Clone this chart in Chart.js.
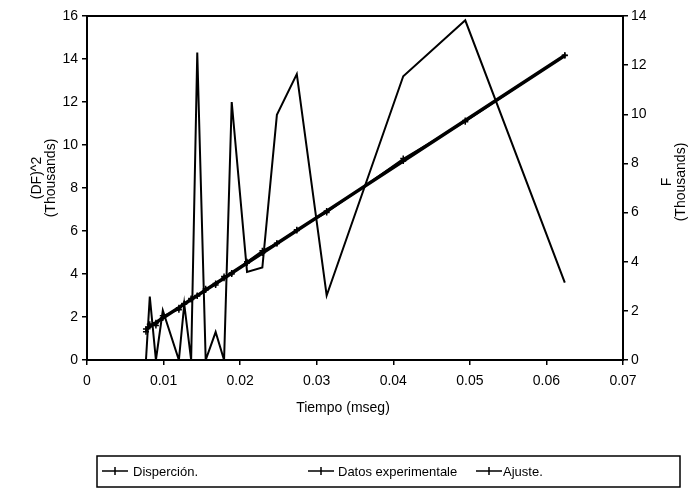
<!DOCTYPE html>
<html>
<head>
<meta charset="utf-8">
<script src="https://cdn.jsdelivr.net/npm/chart.js@4/dist/chart.umd.min.js"></script>
<style>
  html, body { margin: 0; padding: 0; background: #fff; }
  #wrap { width: 688px; height: 494px; }
</style>
</head>
<body>
<div id="wrap"><canvas id="fuerzaChart" width="688" height="494"></canvas></div>
<script>
// tiempo (mseg) de cada medida
const tiempo = [0.0077, 0.0082, 0.0090, 0.0099, 0.0120, 0.0127, 0.0136, 0.0144, 0.0155, 0.0168,
                0.0179, 0.0189, 0.0209, 0.0229, 0.0248, 0.0274, 0.0313, 0.0413, 0.0494, 0.0624];
// (DF)^2 en miles
const dispersion = [0.0, 2.95, 0.0, 2.3, 0.0, 2.6, 0.0, 14.3, 0.0, 1.3,
                    0.0, 12.0, 4.1, 4.3, 11.4, 13.3, 3.0, 13.2, 15.8, 3.6];
// F medida, en miles
const datosExp = [1.15, 1.45, 1.40, 1.80, 2.05, 2.30, 2.50, 2.60, 2.90, 3.05,
                  3.40, 3.50, 4.00, 4.45, 4.75, 5.30, 6.00, 8.20, 9.70, 12.40];
// recta de ajuste, en miles
const ajuste = [1.26, 1.36, 1.52, 1.71, 2.13, 2.28, 2.46, 2.62, 2.85, 3.11,
                3.33, 3.54, 3.95, 4.35, 4.74, 5.27, 6.06, 8.10, 9.75, 12.39];
const xTicks = [0, 0.01, 0.02, 0.03, 0.04, 0.05, 0.06, 0.07];

const FONT = 'Liberation Sans, Arial, sans-serif';

function pts(ys) {
  return tiempo.map((t, i) => ({ x: t, y: ys[i] }));
}

// marco, titulos de ejes y leyenda
const extras = {
  id: 'extras',
  afterDraw(chart) {
    const ctx = chart.ctx;
    const a = chart.chartArea;
    ctx.save();
    ctx.strokeStyle = '#000';
    ctx.lineWidth = 2;
    ctx.strokeRect(a.left, a.top, a.right - a.left, a.bottom - a.top);

    ctx.fillStyle = '#000';
    ctx.font = '14px ' + FONT;
    ctx.textAlign = 'center';
    ctx.textBaseline = 'middle';
    ctx.fillText('Tiempo (mseg)', 343, 408);

    // titulos verticales
    const vtitle = (x, y, lines) => {
      ctx.save();
      ctx.translate(x, y);
      ctx.rotate(-Math.PI / 2);
      lines.forEach((l, i) => ctx.fillText(l, 0, (i - (lines.length - 1) / 2) * 14));
      ctx.restore();
    };
    vtitle(44, 178, ['(DF)^2', '(Thousands)']);
    vtitle(674, 182, ['F', '(Thousands)']);

    // leyenda
    ctx.lineWidth = 1.5;
    ctx.strokeRect(97, 456, 583, 31);
    ctx.textAlign = 'left';
    ctx.font = '13px ' + FONT;
    const items = [[102, 133], [308, 338], [476, 503]];
    chart.data.datasets.forEach((ds, i) => {
      const [mx, tx] = items[i];
      const y = 471;
      ctx.lineWidth = 1.5;
      ctx.beginPath();
      ctx.moveTo(mx, y); ctx.lineTo(mx + 26, y);
      ctx.moveTo(mx + 13, y - 4); ctx.lineTo(mx + 13, y + 4);
      ctx.stroke();
      ctx.fillText(ds.label, tx, y + 1);
    });
    ctx.restore();
  }
};

new Chart(document.getElementById('fuerzaChart'), {
  type: 'line',
  data: {
    datasets: [
      {
        label: 'Disperción.',
        data: pts(dispersion),
        yAxisID: 'y',
        borderColor: '#000',
        borderWidth: 2,
        pointRadius: 0,
        tension: 0
      },
      {
        label: 'Datos experimentale',
        data: pts(datosExp),
        yAxisID: 'y1',
        borderColor: '#000',
        borderWidth: 1.5,
        pointStyle: 'cross',
        pointRadius: 3,
        pointBorderColor: '#000',
        pointBorderWidth: 1.5,
        tension: 0
      },
      {
        label: 'Ajuste.',
        data: pts(ajuste),
        yAxisID: 'y1',
        borderColor: '#000',
        borderWidth: 3.5,
        pointStyle: 'cross',
        pointRadius: 3,
        pointBorderColor: '#000',
        pointBorderWidth: 1.5,
        tension: 0
      }
    ]
  },
  options: {
    responsive: false,
    animation: false,
    layout: { padding: { top: 16 } },
    plugins: { legend: { display: false }, tooltip: { enabled: false } },
    scales: {
      x: {
        type: 'linear',
        min: 0,
        max: 0.07,
        afterFit(s) { s.height = 134; },
        afterBuildTicks(s) { s.ticks = xTicks.map(v => ({ value: v })); },
        grid: { drawOnChartArea: false, drawTicks: true, tickLength: 5, color: '#000', lineWidth: 1.5 },
        border: { color: '#000', width: 2 },
        ticks: {
          color: '#000',
          font: { family: FONT, size: 14 },
          padding: 8,
          maxRotation: 0,
          callback: v => String(Number(v.toFixed(2)))
        }
      },
      y: {
        position: 'left',
        min: 0,
        max: 16,
        afterFit(s) { s.width = 87; },
        grid: { drawOnChartArea: false, drawTicks: true, tickLength: 5, color: '#000', lineWidth: 1.5 },
        border: { color: '#000', width: 2 },
        ticks: { stepSize: 2, color: '#000', font: { family: FONT, size: 14 }, padding: 4 }
      },
      y1: {
        position: 'right',
        min: 0,
        max: 14,
        afterFit(s) { s.width = 65; },
        grid: { drawOnChartArea: false, drawTicks: true, tickLength: 5, color: '#000', lineWidth: 1.5 },
        border: { color: '#000', width: 2 },
        ticks: { stepSize: 2, color: '#000', font: { family: FONT, size: 14 }, padding: 3 }
      }
    }
  },
  plugins: [extras]
});
</script>
</body>
</html>
